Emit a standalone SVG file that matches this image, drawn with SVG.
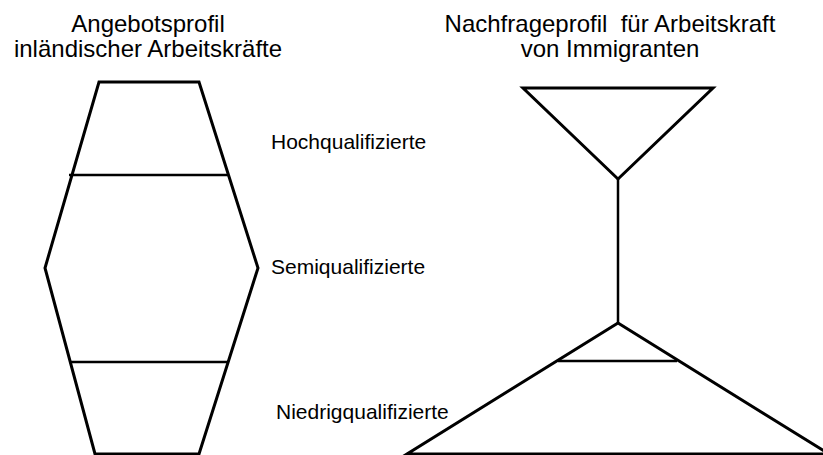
<svg xmlns="http://www.w3.org/2000/svg" width="823" height="455" viewBox="0 0 823 455">
<style>
.t{font-family:"Liberation Sans",Arial,sans-serif;fill:#000;}
.title{font-size:24px;text-anchor:middle;}
.lbl{font-size:21px;}
.shape{fill:none;stroke:#000;stroke-width:3;stroke-linejoin:miter;}
.div{fill:none;stroke:#000;stroke-width:2.5;}
</style>
<rect width="823" height="455" fill="#fff"/>
<g id="title-left">
<text class="t title" x="148" y="32">Angebotsprofil</text>
<text class="t title" x="148" y="57">inländischer Arbeitskräfte</text>
</g>
<g id="title-right">
<text class="t title" x="610" y="32" xml:space="preserve">Nachfrageprofil  für Arbeitskraft</text>
<text class="t title" x="610" y="57">von Immigranten</text>
</g>
<g id="supply-hexagon">
<polygon class="shape" points="99,82 199,82 258,268 199,454 95,454 45,268"/>
<line class="div" x1="69" y1="175" x2="229" y2="175"/>
<line class="div" x1="70" y1="362" x2="228" y2="362"/>
</g>
<g id="labels">
<text class="t lbl" x="271" y="149">Hochqualifizierte</text>
<text class="t lbl" x="271" y="274">Semiqualifizierte</text>
<text class="t lbl" x="276" y="419">Niedrigqualifizierte</text>
</g>
<g id="demand-top">
<polygon class="shape" points="523,88 713,88 618,179"/>
</g>
<g id="connectors">
<line class="div" x1="618" y1="179" x2="618" y2="323"/>
</g>
<g id="demand-bottom">
<polygon class="shape" points="618,323 407,454 829,454"/>
<line class="div" x1="558" y1="361" x2="677" y2="361"/>
</g>
</svg>
